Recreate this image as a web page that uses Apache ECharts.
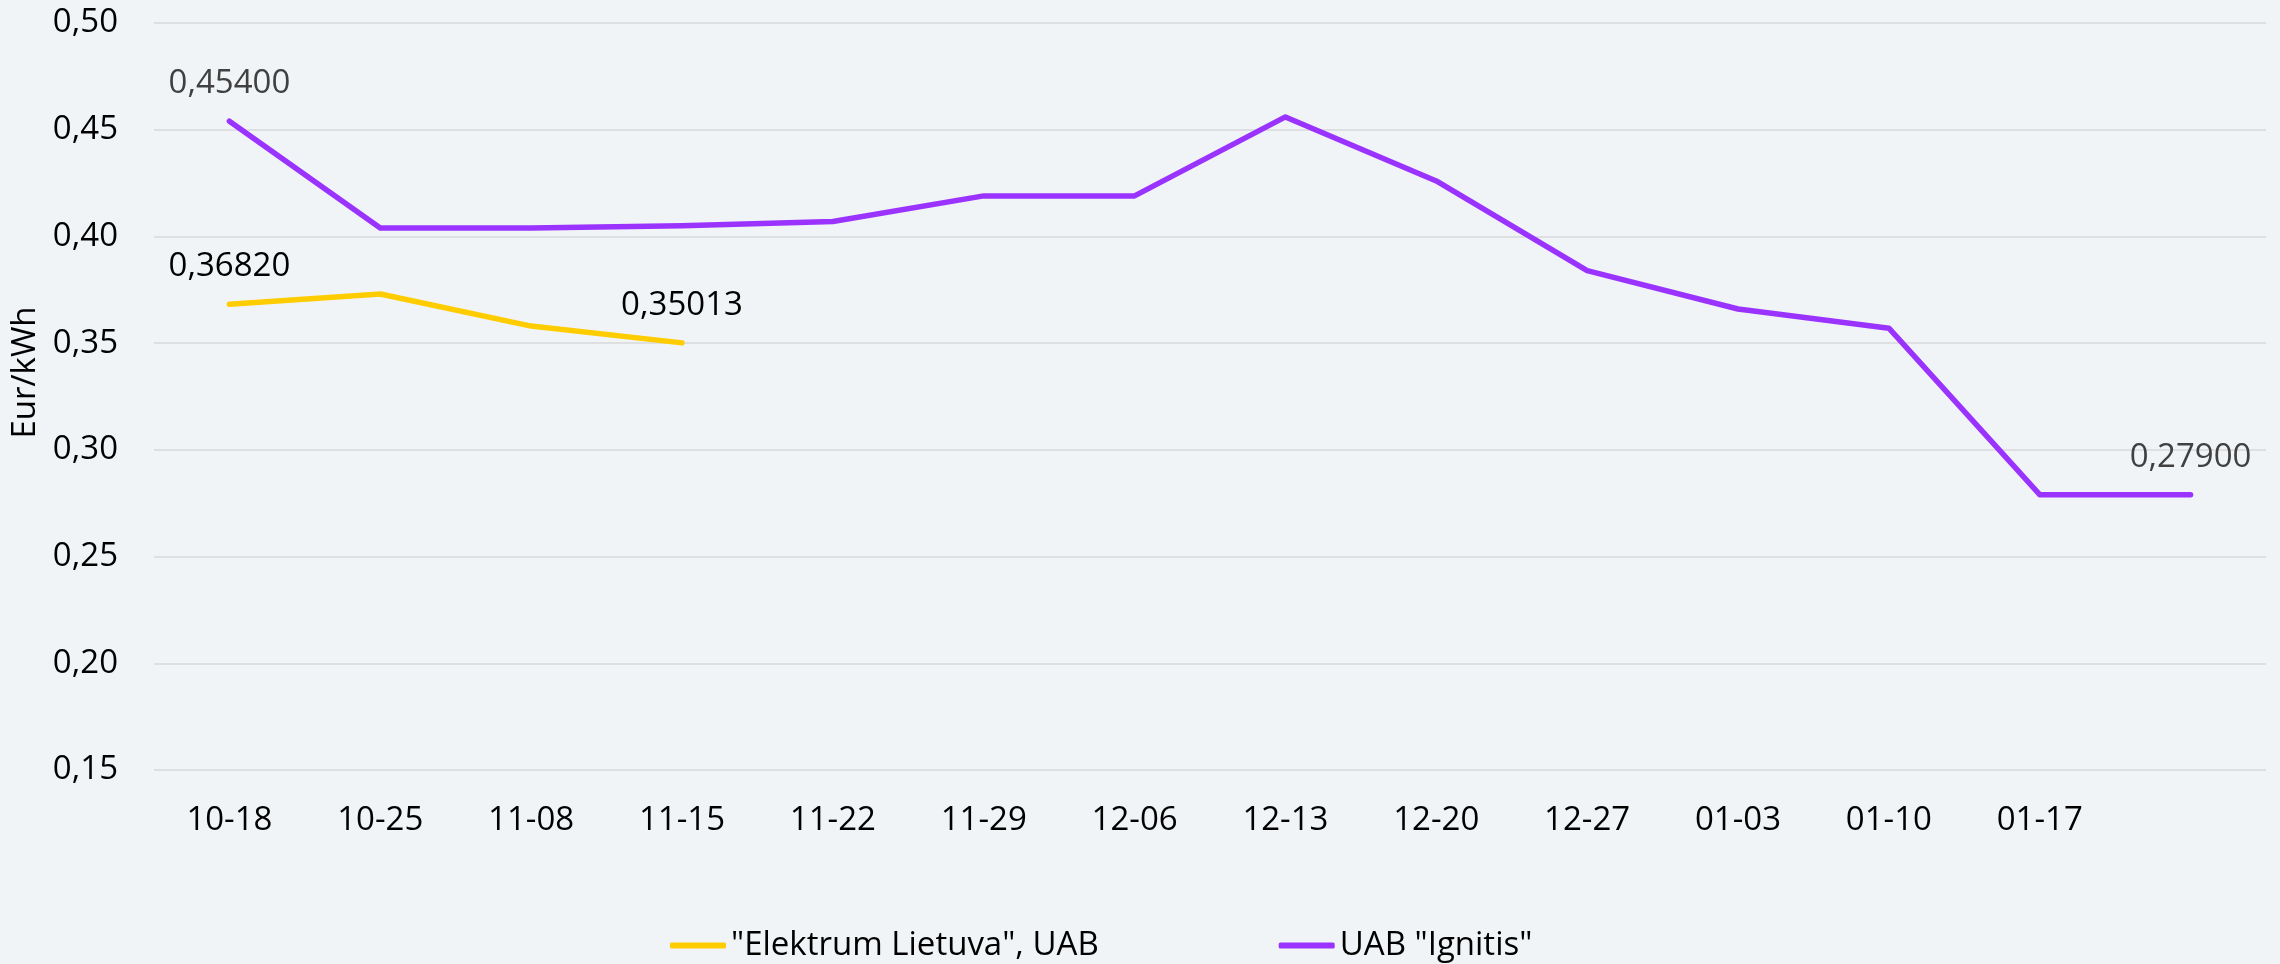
<!DOCTYPE html>
<html>
<head>
<meta charset="utf-8">
<script src="https://cdn.jsdelivr.net/npm/echarts@6/dist/echarts.min.js"></script>
<style>
html,body{margin:0;padding:0;background:#F0F4F7;}
#chart{width:2280px;height:964px;}
</style>
</head>
<body>
<div id="chart"></div>
<script>
const categories = ['10-18','10-25','11-08','11-15','11-22','11-29','12-06','12-13','12-20','12-27','01-03','01-10','01-17',''];
const seriesNames = ['"Elektrum Lietuva", UAB', 'UAB "Ignitis"'];
const elektrum = [0.3682, 0.373, 0.358, 0.35013];
const ignitis = [0.454, 0.404, 0.404, 0.405, 0.407, 0.419, 0.419, 0.456, 0.426, 0.384, 0.366, 0.357, 0.279, 0.279];
const elektrumLabelled = [0, 3];
const ignitisLabelled = [0, 13];
const yAxisName = 'Eur/kWh';

const FONT = '"Open Sans", "Noto Sans", sans-serif';
const fmt = (v, d) => v.toFixed(d).replace('.', ',');

function buildData(values, labelled) {
  return values.map((v, i) => ({ value: v, label: { show: labelled.includes(i) } }));
}

const chart = echarts.init(document.getElementById('chart'));
chart.setOption({
  animation: false,
  backgroundColor: '#F0F4F7',
  textStyle: { fontFamily: FONT },
  grid: { left: 154, right: 14, top: 23, bottom: 194, containLabel: false },
  legend: {
    left: 670, top: 929, padding: 0,
    itemWidth: 56, itemHeight: 6, itemGap: 180,
    icon: 'roundRect',
    textStyle: { fontSize: 33, color: '#000', fontFamily: FONT },
    data: seriesNames
  },
  xAxis: {
    type: 'category',
    data: categories,
    boundaryGap: true,
    axisLine: { show: false },
    axisTick: { show: false },
    axisLabel: { fontSize: 33, color: '#000', margin: 34, fontFamily: FONT, interval: 0 },
    splitLine: { show: false }
  },
  yAxis: {
    type: 'value',
    min: 0.15, max: 0.5, interval: 0.05,
    name: yAxisName,
    nameLocation: 'middle',
    nameGap: 108,
    nameRotate: 90,
    nameTextStyle: { fontSize: 33, color: '#000', fontFamily: FONT, padding: [0, 0, 0, 48] },
    axisLine: { show: false },
    axisTick: { show: false },
    axisLabel: { fontSize: 33, color: '#000', margin: 36, fontFamily: FONT, formatter: v => fmt(v, 2) },
    splitLine: { lineStyle: { color: '#D9D9D9', width: 1.5 } }
  },
  series: [
    {
      name: seriesNames[0],
      type: 'line',
      data: buildData(elektrum, elektrumLabelled),
      color: '#FFCC00',
      showSymbol: true, showAllSymbol: true, symbol: 'circle', symbolSize: 0.1,
      lineStyle: { width: 5.5, color: '#FFCC00', cap: 'round', join: 'round' },
      label: { position: 'top', distance: 21, fontSize: 33, color: '#000', fontFamily: FONT,
               formatter: p => fmt(p.value, 5) }
    },
    {
      name: seriesNames[1],
      type: 'line',
      data: buildData(ignitis, ignitisLabelled),
      color: '#9B33FF',
      showSymbol: true, showAllSymbol: true, symbol: 'circle', symbolSize: 0.1,
      lineStyle: { width: 5.5, color: '#9B33FF', cap: 'round', join: 'round' },
      label: { position: 'top', distance: 21, fontSize: 33, color: '#404040', fontFamily: FONT,
               formatter: p => fmt(p.value, 5) }
    }
  ]
});
</script>
</body>
</html>
